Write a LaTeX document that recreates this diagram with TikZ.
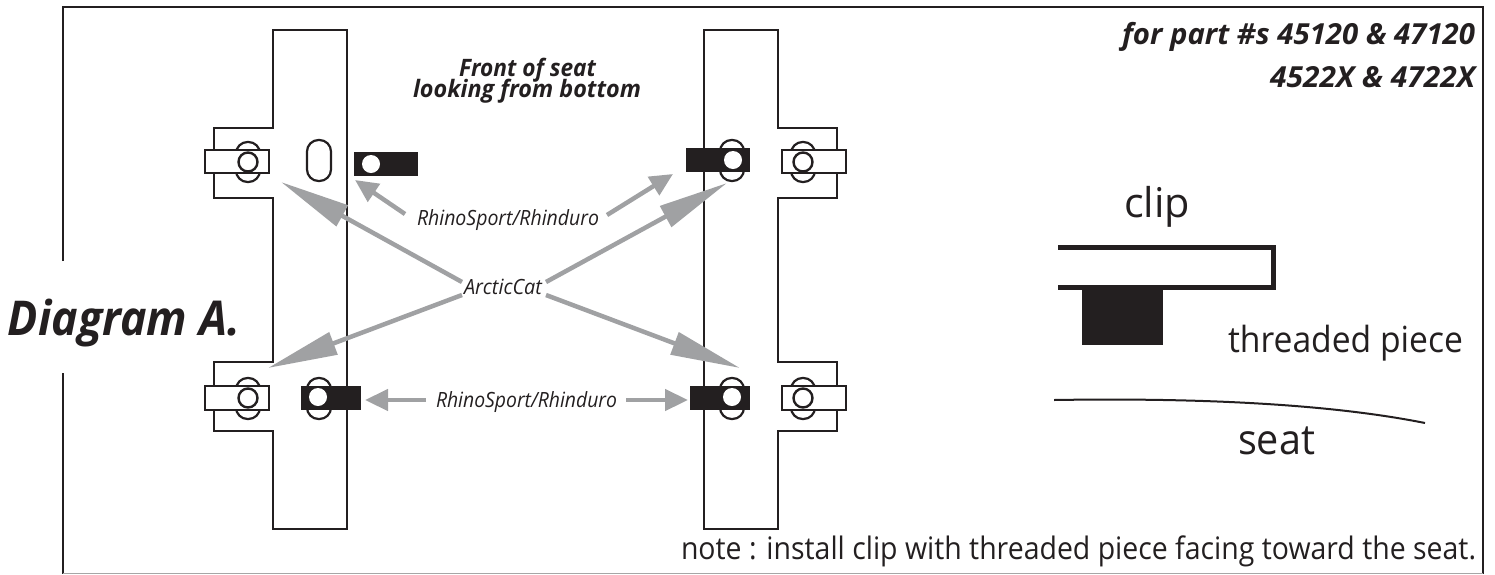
\documentclass[tikz,border=0pt]{standalone}
\usepackage{graphicx}
\usepackage{fontspec}
\setmainfont{Open Sans}
\usetikzlibrary{arrows.meta}
\definecolor{ink}{HTML}{231F20}
\definecolor{greyarrow}{HTML}{A0A1A3}
\newcommand{\fitw}[3]{\resizebox{#1pt}{\height}{\fontsize{#2}{#2}\selectfont #3}}
\tikzset{
  plateline/.style={draw=ink,line width=2.4pt,fill=white,line join=miter},
  slotshape/.style={draw=ink,line width=2.2pt,fill=white,rounded corners=11.5pt},
  tabbox/.style={draw=ink,line width=2.4pt,fill=white},
  ringhole/.style={draw=ink,line width=2.4pt,fill=white},
  blackclip/.style={fill=ink,draw=none},
  whitehole/.style={fill=white,draw=none},
  bigarrow/.style={draw=greyarrow,line width=4.5pt,-{Triangle[length=70pt,width=23pt,fill=greyarrow]}},
  smallarrow/.style={draw=greyarrow,line width=4.5pt,-{Triangle[length=23pt,width=21pt,fill=greyarrow]}},
  label/.style={inner sep=0pt,outer sep=0pt,anchor=base west,text=ink},
}
\begin{document}
\begin{tikzpicture}[x=1pt,y=-1pt]
\useasboundingbox (0,0) rectangle (1495,574);
% frame
\draw[ink,line width=2.4pt,line cap=butt] (63,261) -- (63,7) -- (1483,7) -- (1483,574);
\draw[ink,line width=1.6pt] (63,373) -- (63,574);
\draw[black!35,line width=1.2pt] (63,573.3) -- (1483,573.3);
% left plate
\draw[plateline] (273,30) -- (347,30) -- (347,529) -- (273,529) -- (273,431) -- (214,431) -- (214,362) -- (273,362) -- (273,198) -- (214,198) -- (214,128) -- (273,128) -- cycle;
% right plate
\draw[plateline] (704,30) -- (778,30) -- (778,128) -- (837,128) -- (837,198) -- (778,198) -- (778,362) -- (837,362) -- (837,431) -- (778,431) -- (778,529) -- (704,529) -- cycle;
% left plate slots and tabs
\draw[slotshape] (236,142) rectangle (260,182);
\draw[tabbox] (205,150) rectangle (269,173);
\draw[ringhole] (248,162) circle (9.5);
\draw[slotshape] (307,140) rectangle (331,181);
\fill[blackclip] (354,152) rectangle (418,176);
\fill[whitehole] (371,164) circle (9);
\draw[slotshape] (236,378) rectangle (260,419);
\draw[tabbox] (205,386) rectangle (269,410);
\draw[ringhole] (248,398) circle (9.5);
\draw[slotshape] (307,378) rectangle (331,419);
\fill[blackclip] (301,386) rectangle (361,410);
\fill[whitehole] (318,397) circle (9);
% right plate slots and tabs
\draw[slotshape] (720,140) rectangle (744,181);
\fill[blackclip] (686,148) rectangle (750,172);
\fill[whitehole] (733,160) circle (9);
\draw[slotshape] (791,142) rectangle (815,182);
\draw[tabbox] (782,150) rectangle (846,173);
\draw[ringhole] (803,162) circle (9.5);
\draw[slotshape] (720,378) rectangle (744,419);
\fill[blackclip] (690,386) rectangle (750,410);
\fill[whitehole] (732,397) circle (9);
\draw[slotshape] (791,378) rectangle (815,419);
\draw[tabbox] (782,386) rectangle (846,410);
\draw[ringhole] (803,398) circle (9.5);
% labels
\node[label] (partA) at (1122,44) {\fitw{353}{29pt}{\bfseries\itshape for part \#s 45120 \& 47120}};
\node[label] (partB) at (1270,87) {\fitw{205}{29pt}{\bfseries\itshape 4522X \& 4722X}};
\node[label] (front) at (459,76) {\fitw{137}{24pt}{\bfseries\itshape Front of seat}};
\node[label] (looking) at (413,97) {\fitw{228}{24pt}{\bfseries\itshape looking from bottom}};
\node[label] (rhinoA) at (417,225) {\fitw{182}{21pt}{\itshape RhinoSport/Rhinduro}};
\node[label] (arctic) at (464,294) {\fitw{78}{21pt}{\itshape ArcticCat}};
\node[label] (rhinoB) at (436,407) {\fitw{181}{21pt}{\itshape RhinoSport/Rhinduro}};
\node[label] (diagram) at (8,335) {\fitw{232}{48pt}{\bfseries\itshape Diagram A.}};
\node[label] (clipword) at (1124,217) {\fitw{66}{41pt}{clip}};
\node[label] (threaded) at (1228,352) {\fitw{235}{36pt}{threaded piece}};
\node[label] (seatword) at (1238,454) {\fitw{77}{42pt}{seat}};
\node[label] (note) at (681,559) {\fitw{795}{31pt}{note : install clip with threaded piece facing toward the seat.}};
% arrow ends
\coordinate (tipUL) at (281,182);
\coordinate (tipLL) at (268,368);
\coordinate (tipUR) at (727,183);
\coordinate (tipLR) at (740,368);
\coordinate (tipSL) at (355,180);
\coordinate (tipSR) at (673,174);
\coordinate (tipBL) at (365,400);
\coordinate (tipBR) at (688,400);
\draw[bigarrow] ([xshift=-2pt]arctic.west |- 0,282) -- (tipUL);
\draw[bigarrow] ([xshift=-2pt]arctic.west |- 0,295) -- (tipLL);
\draw[bigarrow] ([xshift=4pt]arctic.east |- 0,282) -- (tipUR);
\draw[bigarrow] ([xshift=4pt]arctic.east |- 0,295) -- (tipLR);
\draw[smallarrow] (405,214) -- (tipSL);
\draw[smallarrow] (607,215) -- (tipSR);
\draw[smallarrow] (426,400) -- (tipBL);
\draw[smallarrow] (626,400) -- (tipBR);
% clip profile
\draw[ink,line width=5pt,line join=miter] (1058,247) -- (1273,247) -- (1273,287) -- (1058,287);
\fill[ink] (1082,287) rectangle (1163,345);
% seat curve
\draw[ink,line width=2pt] (1054,400) .. controls (1180,398) and (1320,402) .. (1425,423);
\end{tikzpicture}
\end{document}
